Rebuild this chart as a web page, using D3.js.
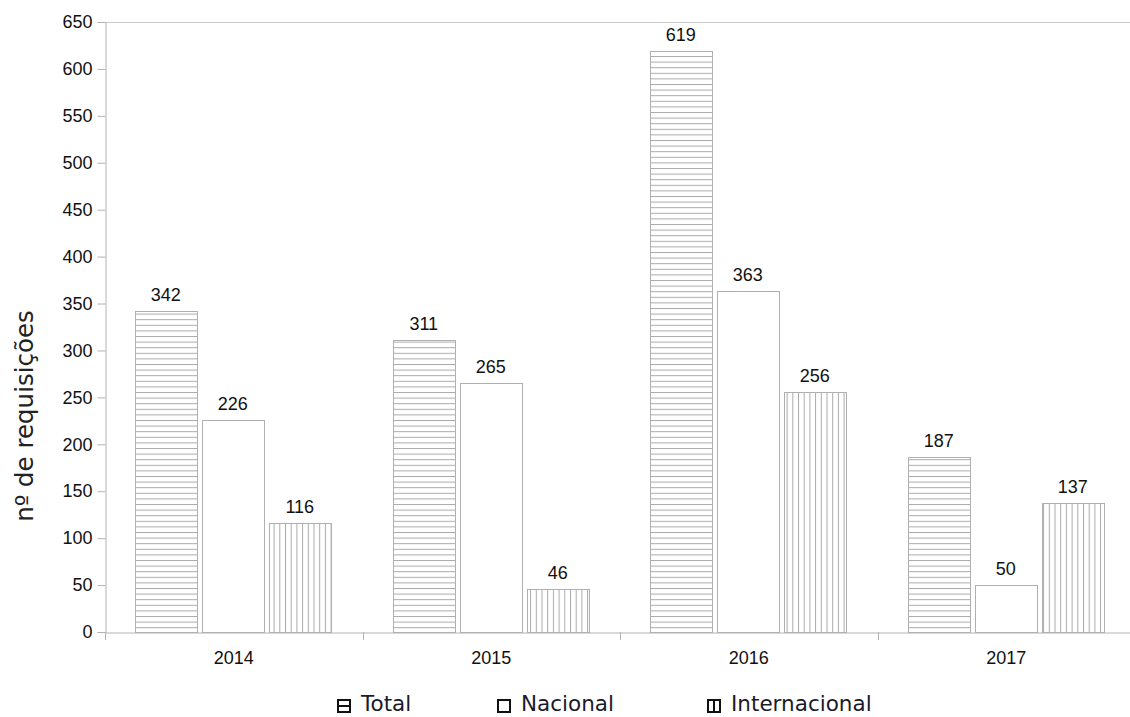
<!DOCTYPE html>
<html><head><meta charset="utf-8">
<script src="https://cdn.jsdelivr.net/npm/d3@7"></script>
<style>body{margin:0;background:#fff;}svg{display:block;font-family:"Liberation Sans",Arial,sans-serif;}</style>
</head><body>
<svg id="c" width="1130" height="717"></svg>
<script>
const years = ["2014","2015","2016","2017"];
const seriesNames = ["Total","Nacional","Internacional"];
const total = [342,311,619,187];
const nacional = [226,265,363,50];
const internacional = [116,46,256,137];
const yTicks = [0,50,100,150,200,250,300,350,400,450,500,550,600,650];

const svg = d3.select("#c");
const m = {l:105, r:1135, t:22, b:632};
const x = d3.scaleBand().domain(years).range([m.l, m.r]);
const xs = d3.scaleBand().domain(seriesNames).range([30, 226]).paddingInner(0.085);
const y = d3.scaleLinear().domain([0,650]).range([m.b, m.t]);

const defs = svg.append("defs");
const ph = defs.append("pattern").attr("id","hh").attr("patternUnits","userSpaceOnUse").attr("width",10).attr("height",5.6);
ph.append("line").attr("x1",0).attr("x2",10).attr("y1",0.5).attr("y2",0.5).attr("stroke","#aaa").attr("stroke-width",1);
const pv = defs.append("pattern").attr("id","vv").attr("patternUnits","userSpaceOnUse").attr("width",5.7).attr("height",10);
pv.append("line").attr("x1",0.5).attr("x2",0.5).attr("y1",0).attr("y2",10).attr("stroke","#aaa").attr("stroke-width",1);

// frame
svg.append("line").attr("x1",m.l).attr("x2",m.r).attr("y1",m.t+0.5).attr("y2",m.t+0.5).attr("stroke","#ccc");

const data = years.map((yr,i)=>({year:yr, vals:[total[i],nacional[i],internacional[i]]}));
const fills = ["url(#hh)","#fff","url(#vv)"];

const g = svg.append("g");
data.forEach(d=>{
  d.vals.forEach((v,j)=>{
    const bx = Math.round(x(d.year)+xs(seriesNames[j]));
    g.append("rect").attr("x",bx+0.5).attr("y",Math.round(y(v))+0.5).attr("width",Math.round(xs.bandwidth())).attr("height",Math.round(y(0))-Math.round(y(v)))
      .attr("fill",fills[j]).attr("stroke","#b0b0b0").attr("stroke-width",1);
    g.append("text").attr("x",bx+xs.bandwidth()/2).attr("y",y(v)-10).attr("text-anchor","middle")
      .attr("font-size",18).attr("fill","#111").text(v);
  });
});

// y axis
const ya = svg.append("g").attr("transform",`translate(${m.l+0.5},0)`)
  .call(d3.axisLeft(y).tickValues(yTicks).tickSize(8).tickPadding(5));
ya.select(".domain").attr("stroke","#b3b3b3");
ya.selectAll(".tick line").attr("stroke","#b3b3b3");
ya.selectAll("text").attr("font-size",18).attr("fill","#111").attr("font-family","Liberation Sans, Arial, sans-serif");

// x axis
const xa = svg.append("g").attr("transform",`translate(0,${m.b+0.5})`)
  .call(d3.axisBottom(x).tickSize(0).tickPadding(19));
xa.select(".domain").attr("stroke","#b3b3b3");
xa.selectAll("text").attr("font-size",18).attr("fill","#111").attr("font-family","Liberation Sans, Arial, sans-serif");
// group separators
[...years.map(yr=>x(yr)), m.r].forEach(v=>{
  svg.append("line").attr("x1",Math.round(v)+0.5).attr("x2",Math.round(v)+0.5).attr("y1",m.b).attr("y2",m.b+8).attr("stroke","#b3b3b3");
});

// y label
svg.append("text").attr("transform",`translate(33,416) rotate(-90)`).attr("text-anchor","middle")
  .attr("font-family","DejaVu Sans").attr("font-size",24.5).attr("fill","#222").text("nº de requisições");

// legend
const legX = [337,497,707];
const lg = svg.append("g");
seriesNames.forEach((s,j)=>{
  const lx = legX[j], ly = 699;
  const gi = lg.append("g");
  gi.append("rect").attr("x",lx+1).attr("y",ly+1).attr("width",12).attr("height",12).attr("fill","#fff").attr("stroke","#111").attr("stroke-width",2);
  if(j===0){ gi.append("line").attr("x1",lx).attr("x2",lx+14).attr("y1",ly+7).attr("y2",ly+7).attr("stroke","#111").attr("stroke-width",2); }
  if(j===2){ gi.append("line").attr("x1",lx+7).attr("x2",lx+7).attr("y1",ly).attr("y2",ly+14).attr("stroke","#111").attr("stroke-width",2); }
  lg.append("text").attr("x",lx+24).attr("y",711).attr("font-family","DejaVu Sans").attr("font-size",21.5).attr("fill","#1a1a2a").text(s);
});
</script>
</body></html>
